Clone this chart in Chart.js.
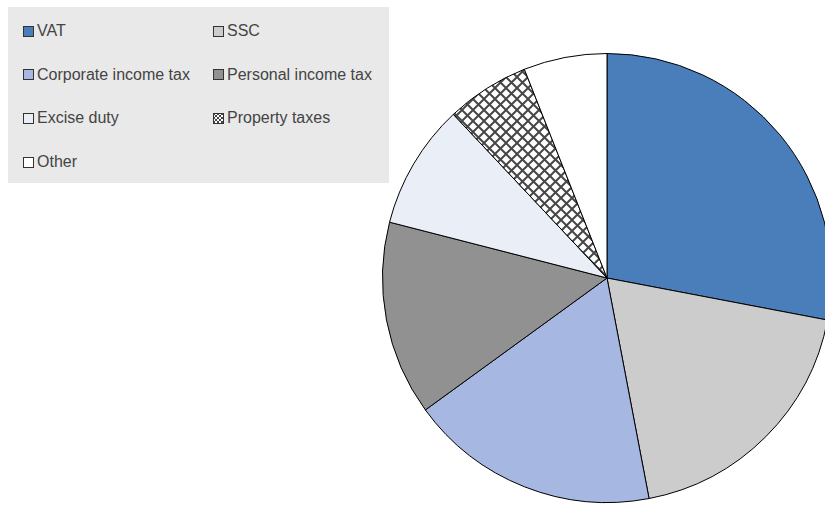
<!DOCTYPE html>
<html>
<head>
<meta charset="utf-8">
<script src="https://cdn.jsdelivr.net/npm/chart.js@4"></script>
<style>
  html, body { margin: 0; padding: 0; background: #fff; overflow: hidden; }
  #wrap { position: relative; width: 825px; height: 505px; overflow: hidden; }
  #pie { position: absolute; left: 0; top: 0; }
  #legend {
    position: absolute; left: 8px; top: 7px; width: 381px; height: 176px;
    background: #e9e9e9; font-family: "Liberation Sans", Arial, sans-serif;
    font-size: 16px; color: #444444;
  }
  .item { position: absolute; display: flex; align-items: center; white-space: nowrap; }
  .box { width: 9px; height: 9px; border: 1px solid #333; margin-right: 3px; }
</style>
</head>
<body>
<div id="wrap">
  <canvas id="pie" width="840" height="505"></canvas>
  <div id="legend"></div>
</div>
<script>
// Tax revenue shares (%), clockwise from 12 o'clock
const labels = ['VAT', 'SSC', 'Corporate income tax', 'Personal income tax', 'Excise duty', 'Property taxes', 'Other'];
const shares = [28, 19, 18, 14, 9, 6, 6];
const fills = ['#4a7ebb', '#cccccc', '#a6b7e1', '#919191', '#eaeef7', 'hatch', '#ffffff'];

// Legend layout: order shown in the grey box (two columns)
const legendOrder = [0, 1, 2, 3, 4, 5, 6];

// Cross-hatch pattern for property taxes
function makeHatch(size, width) {
    const c = document.createElement('canvas');
    c.width = size; c.height = size;
    const g = c.getContext('2d');
    g.fillStyle = '#ffffff';
    g.fillRect(0, 0, size, size);
    g.strokeStyle = '#474747';
    g.lineWidth = width;
    g.beginPath();
    g.moveTo(0, 0); g.lineTo(size, size);
    g.moveTo(size, 0); g.lineTo(0, size);
    g.stroke();
    return c;
}

const hatchTile = makeHatch(11, 2);
const ctx = document.getElementById('pie').getContext('2d');
const hatch = ctx.createPattern(hatchTile, 'repeat');
const colors = fills.map(f => f === 'hatch' ? hatch : f);

const chart = new Chart(ctx, {
    type: 'pie',
    data: {
        labels: labels,
        datasets: [{
            data: shares,
            backgroundColor: colors,
            borderColor: '#000000',
            borderWidth: 1
        }]
    },
    options: {
        responsive: false,
        animation: false,
        layout: { padding: { left: 382, right: 8, top: 53, bottom: 2 } },
        plugins: {
            legend: { display: false },
            tooltip: { enabled: false }
        }
    }
});

// Build the grey legend box
const legend = document.getElementById('legend');
const smallHatch = makeHatch(4, 1).toDataURL();
legendOrder.forEach((idx, i) => {
    const col = i % 2;
    const row = Math.floor(i / 2);
    const item = document.createElement('div');
    item.className = 'item';
    item.style.left = (col === 0 ? 15 : 205) + 'px';
    item.style.top = (15 + row * 43.7) + 'px';
    const box = document.createElement('span');
    box.className = 'box';
    if (fills[idx] === 'hatch') {
        box.style.backgroundImage = 'url(' + smallHatch + ')';
    } else {
        box.style.background = fills[idx];
    }
    const text = document.createElement('span');
    text.textContent = labels[idx];
    item.appendChild(box);
    item.appendChild(text);
    legend.appendChild(item);
});
</script>
</body>
</html>
